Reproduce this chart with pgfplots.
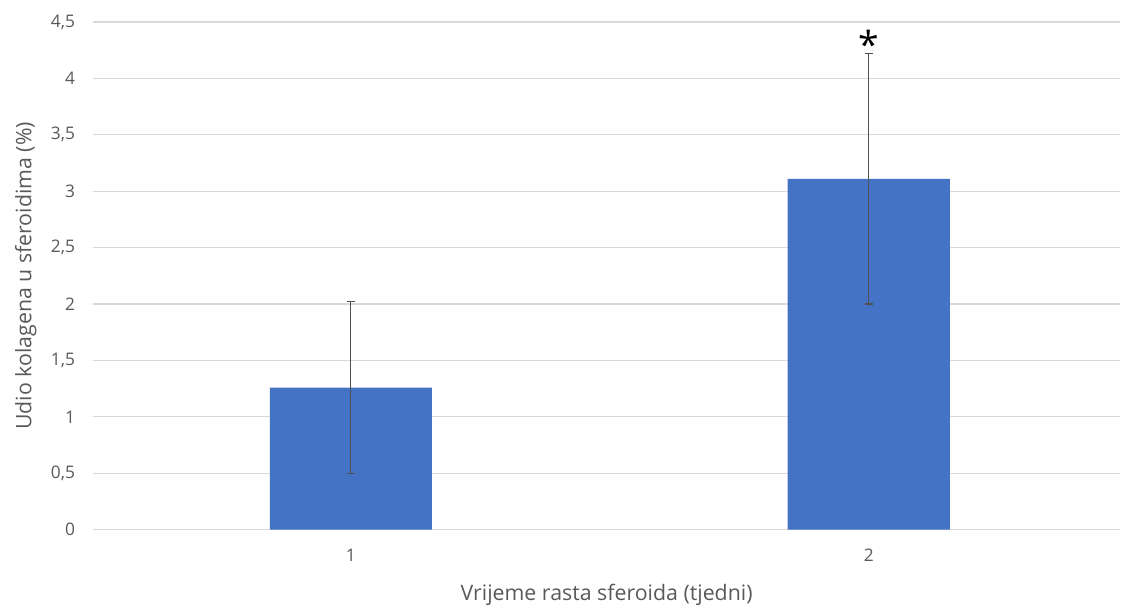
\documentclass[border=0pt]{standalone}
\usepackage{pgfplots}
\pgfplotsset{compat=1.18}
\usepackage{fontspec}
\setmainfont{Open Sans}
\definecolor{barblue}{HTML}{4472C4}
\definecolor{gridgray}{HTML}{D9D9D9}
\definecolor{txtgray}{HTML}{595959}
\begin{document}
\begin{tikzpicture}[x=1pt,y=1pt]
\begin{axis}[
    name=ax,
    scale only axis,
    width=771pt,
    height=381pt,
    ybar,
    bar width=0.313,
    xmin=0.502, xmax=2.486,
    ymin=0, ymax=4.5,
    xtick={1,2},
    ytick={0,0.5,...,4.5},
    ymajorgrids,
    grid style={gridgray, line width=0.9pt},
    axis x line*=bottom,
    axis y line*=left,
    y axis line style={draw=none},
    x axis line style={gridgray, line width=0.9pt},
    major tick length=0pt,
    tick style={draw=none},
    /pgf/number format/assume math mode=true,
    /pgf/number format/use comma,
    /pgf/number format/fixed,
    ticklabel style={font=\fontsize{13}{15}\selectfont, text=txtgray},
    yticklabel style={xshift=-10pt},
    xticklabel style={yshift=-11pt},
    xlabel={Vrijeme rasta sferoida (tjedni)},
    ylabel={Udio kolagena u sferoidima (\%)},
    label style={font=\fontsize{16}{18}\selectfont, text=txtgray},
    xlabel style={yshift=-10pt},
    ylabel style={yshift=4pt},
    enlargelimits=false,
    clip=false,
]
\addplot[fill=barblue, draw=none,
    error bars/.cd, y dir=both, y explicit,
    error bar style={txtgray!90!black, line width=0.9pt},
    error mark options={rotate=90, mark size=3pt, txtgray!90!black, line width=0.9pt}]
    coordinates {(1,1.26) +- (0,0.765) (2,3.11) +- (0,1.11)};
\node[anchor=center, font=\fontsize{28}{28}\selectfont, inner sep=0pt] at (axis cs:2,4.30) {*};
\end{axis}
\useasboundingbox (ax.south west) ++(-69.75pt,-60pt) rectangle ++(840.75pt,457.5pt);
\end{tikzpicture}
\end{document}
